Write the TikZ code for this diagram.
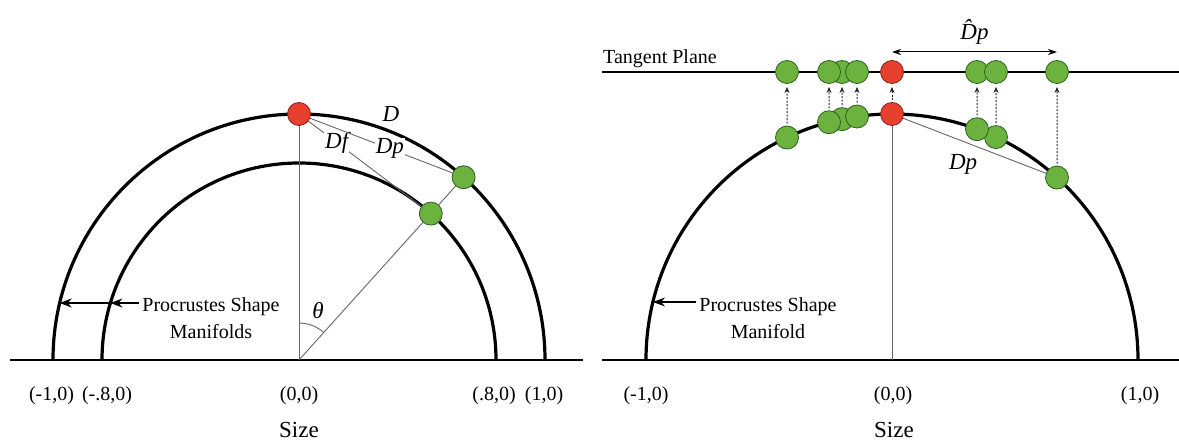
\documentclass[tikz,border=0pt]{standalone}
\usepackage{fontspec}
\setmainfont{Liberation Serif}
\usepackage{tikz}
\usetikzlibrary{arrows.meta,positioning,calc}
\definecolor{dotgreen}{RGB}{108,178,62}
\definecolor{dotgreenline}{RGB}{45,95,30}
\definecolor{dotred}{RGB}{232,64,46}
\definecolor{dotredline}{RGB}{130,30,20}

\begin{document}
\begin{tikzpicture}[x=1pt,y=1pt,
  font=\fontsize{20}{27}\selectfont,
  manifold/.style={line width=3.2pt},
  axisline/.style={line width=1.4pt},
  guide/.style={line width=0.9pt,black!60},
  gdot/.style={circle,draw=dotgreenline,fill=dotgreen,line width=0.8pt,minimum size=23pt,inner sep=0pt},
  rdot/.style={gdot,draw=dotredline,fill=dotred},
  proj/.style={line width=1pt,black!85,dash pattern=on 2pt off 1.5pt,-{Stealth[length=6pt,width=5pt]},shorten <=2pt,shorten >=3pt},
  pointer/.style={line width=1.2pt,-{Stealth[length=12pt,width=9pt]}},
  dimarr/.style={line width=1pt,{Stealth[length=9pt,width=6pt]}-{Stealth[length=9pt,width=6pt]}},
  lab/.style={font=\fontsize{23}{23}\selectfont\itshape,text=black,inner sep=1pt},
  sizelab/.style={font=\fontsize{23}{23}\selectfont}]
\useasboundingbox (0,-82) rectangle (1179,360);

% left: the two manifolds
\coordinate (O1) at (299,0);
\draw[axisline] (10,0) -- (583,0);
\draw[manifold] (O1) ++(180:246) arc[start angle=180,end angle=0,radius=246];
\draw[manifold] (O1) ++(180:197) arc[start angle=180,end angle=0,radius=197];
\node[rdot] (rL) at ($(O1)+(90:246)$) {};
\node[gdot] (goL) at ($(O1)+(48:246)$) {};
\node[gdot] (giL) at ($(O1)+(48:197)$) {};
\draw[guide] (O1) -- (rL);
\draw[guide] (O1) -- (giL);
\draw[guide] (giL) -- (goL);
\draw[guide] (rL) -- node[lab,fill=white,pos=0.25] (dfL) {Df} (giL);
\draw[guide] (rL) -- node[lab,fill=white,pos=0.56] (dpL) {Dp} (goL);
\draw[guide] (O1) ++(90:37) arc[start angle=90,end angle=48,radius=37];
\node[lab] (theta) at (318,49) {θ};
\node[lab] (dL) at (391,246) {D};
\node[align=center] (manL) at (211,41.5) {Procrustes Shape\\Manifolds};
\coordinate (tipLo) at (59.7,57);
\coordinate (tipLi) at (110.4,57);
\draw[pointer] (manL.west |- tipLi) -- (tipLi);
\draw[pointer] (tipLi) -- (tipLo);
\foreach \x/\t/\n in {51.5/{(-1,0)}/a,107/{(-.8,0)}/b,299/{(0,0)}/c,494/{(.8,0)}/d,544/{(1,0)}/e}
  \node (tickL\n) at (\x,-36) {\t};
\node[sizelab] (sizeL) at (299,-70) {Size};

% right: one manifold and the tangent plane
\coordinate (O2) at (892,0);
\draw[axisline] (602,0) -- (1179,0);
\draw[axisline] (602,288) -- (1179,288);
\node[anchor=base west,inner sep=0pt] (tanlab) at (603,296) {Tangent Plane};
\draw[manifold] (O2) ++(180:246) arc[start angle=180,end angle=0,radius=246];
\foreach \n/\dx in {1/-105,3/-50,2/-63,4/-35,6/104,5/85,7/165}
  \node[gdot] (c\n) at ($(O2)+({acos(\dx/246)}:246)$) {};
\foreach \n/\dx in {1/-105,3/-50,2/-63,4/-35,5/85,6/104,7/165}
  \node[gdot] (t\n) at ($(O2)+(\dx,288)$) {};
\node[rdot] (rR) at ($(O2)+(90:246)$) {};
\node[rdot] (tR) at ($(O2)+(0,288)$) {};
\foreach \n in {1,...,7}
  \draw[proj] (c\n) -- (t\n);
\draw[proj] (rR) -- (tR);
\draw[guide] (O2) -- (rR);
\draw[guide] (rR) -- node[lab,pos=0.42,below=12pt] (dpR) {Dp} (c7);
\coordinate (dimy) at (0,308);
\draw[dimarr] (tR |- dimy) -- node[lab,above=6pt] (dhat) {\^{D}p} (t7 |- dimy);
\node[align=center] (manR) at (768,41.5) {Procrustes Shape\\Manifold};
\coordinate (tipR) at (653,58);
\draw[pointer] (manR.west |- tipR) -- (tipR);
\foreach \x/\t/\n in {646/{(-1,0)}/a,893/{(0,0)}/c,1140/{(1,0)}/e}
  \node (tickR\n) at (\x,-36) {\t};
\node[sizelab] (sizeR) at (894,-70) {Size};
\end{tikzpicture}
\end{document}
